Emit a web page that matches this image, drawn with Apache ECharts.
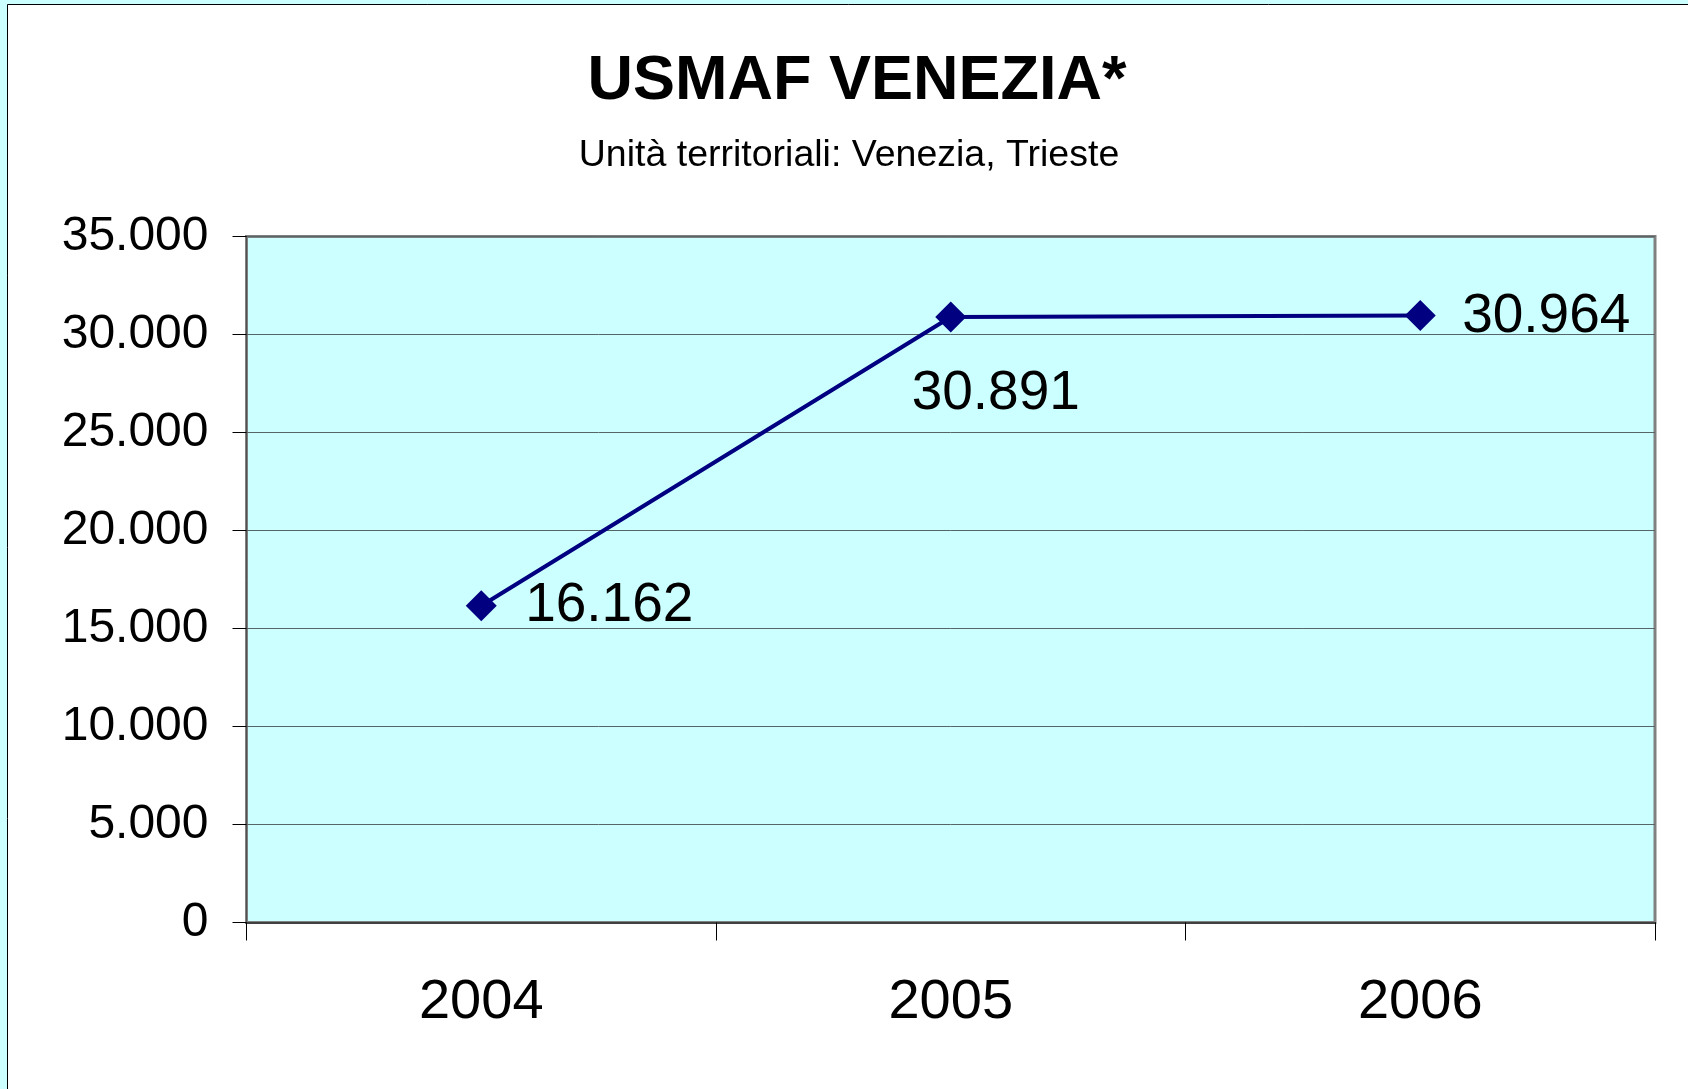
<!DOCTYPE html>
<html>
<head>
<meta charset="utf-8">
<title>USMAF VENEZIA*</title>
<script src="https://cdn.jsdelivr.net/npm/echarts@6/dist/echarts.min.js"></script>
<style>
  html, body { margin: 0; padding: 0; background: #ccffff; }
  #container { width: 1688px; height: 1089px; }
</style>
</head>
<body>
<div id="container"></div>
<script>
// chart data
var years = ['2004', '2005', '2006'];
var totals = [16162, 30891, 30964];
var yTicks = [0, 5000, 10000, 15000, 20000, 25000, 30000, 35000];

// label offsets from each point (px), style only
var labelOffsets = [[128, 0], [45, 77], [126, 1]];

function fmt(v) {
    // italian thousands separator
    return String(v).replace(/\B(?=(\d{3})+(?!\d))/g, '.');
}

var dom = document.getElementById('container');
var myChart = echarts.init(dom, null, { renderer: 'canvas' });

var font = 'Liberation Sans, Arial, Helvetica, sans-serif';

var option = {
    backgroundColor: '#ccffff',
    animation: false,
    textStyle: { fontFamily: font },
    graphic: [{
        type: 'rect',
        z: -10,
        silent: true,
        shape: { x: 7.5, y: 4.5, width: 1700, height: 1100 },
        style: { fill: '#ffffff', stroke: '#000000', lineWidth: 1 }
    }],
    title: [{
        text: 'USMAF VENEZIA*',
        left: 857,
        top: 50,
        textAlign: 'center',
        padding: 0,
        textStyle: { fontFamily: font, fontSize: 63, fontWeight: 'bold', color: '#000' }
    }, {
        text: 'Unità territoriali: Venezia, Trieste',
        left: 849,
        top: 137,
        textAlign: 'center',
        padding: 0,
        textStyle: { fontFamily: font, fontSize: 37.5, fontWeight: 'normal', color: '#000' }
    }],
    grid: {
        left: 246.5,
        top: 236.5,
        right: 33,
        bottom: 166.5,
        show: true,
        backgroundColor: '#ccffff',
        borderColor: '#808080',
        borderWidth: 3
    },
    xAxis: {
        type: 'category',
        data: years,
        boundaryGap: true,
        axisLine: { show: true, lineStyle: { color: '#404040', width: 2 } },
        axisTick: { show: true, length: 18, alignWithLabel: false, lineStyle: { color: '#000', width: 1 } },
        axisLabel: { fontSize: 56, color: '#000', margin: 52, fontFamily: font },
        splitLine: { show: false }
    },
    yAxis: {
        type: 'value',
        min: yTicks[0],
        max: yTicks[yTicks.length - 1],
        interval: yTicks[1] - yTicks[0],
        axisLine: { show: true, lineStyle: { color: '#505050', width: 1 } },
        axisTick: { show: true, length: 14, lineStyle: { color: '#000', width: 1 } },
        axisLabel: {
            fontSize: 48, color: '#000', margin: 38, fontFamily: font,
            padding: [4, 0, 0, 0],
            formatter: function (v) { return fmt(v); }
        },
        splitLine: { show: true, lineStyle: { color: '#566666', width: 1 } }
    },
    series: [{
        type: 'line',
        data: totals.map(function (v, i) {
            return {
                value: v,
                label: { offset: labelOffsets[i] }
            };
        }),
        symbol: 'diamond',
        symbolSize: 31,
        lineStyle: { color: '#000080', width: 4 },
        itemStyle: { color: '#000080' },
        label: {
            show: true,
            position: 'inside',
            fontSize: 55,
            color: '#000',
            fontFamily: font,
            formatter: function (p) { return fmt(p.value); }
        }
    }]
};

if (option && typeof option === 'object') {
    myChart.setOption(option, true);
}
</script>
</body>
</html>
